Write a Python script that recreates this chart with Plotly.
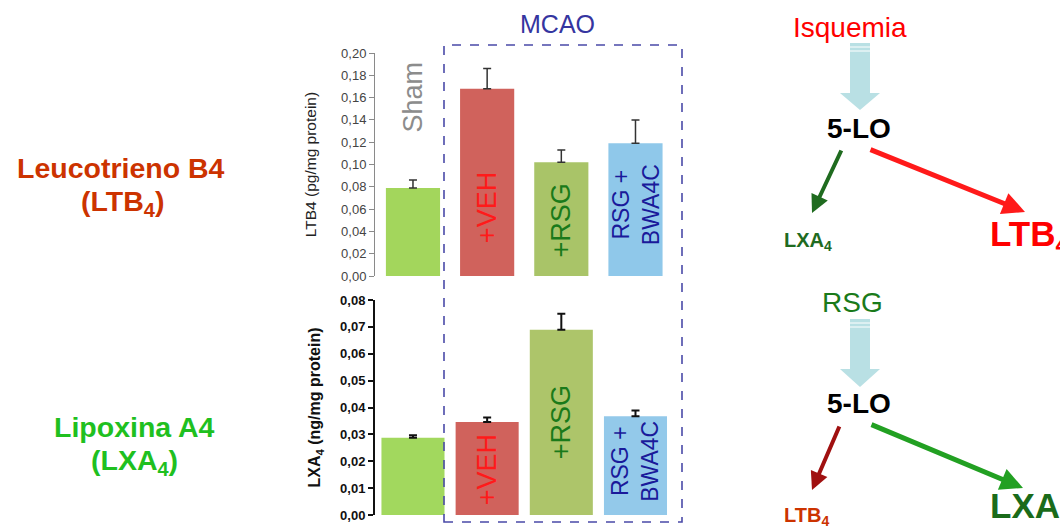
import plotly.graph_objects as go

W, H = 1060, 528

# ---------------- data ----------------
groups = ["Sham", "+VEH", "+RSG", "RSG + BWA4C"]
ltb4_values = [0.079, 0.168, 0.102, 0.119]
ltb4_err = [0.007, 0.018, 0.011, 0.021]
lxa4_values = [0.0287, 0.0346, 0.0689, 0.0367]
lxa4_err = [0.0010, 0.0017, 0.0060, 0.0022]

top_colors = ["#a3d65c", "#d0625c", "#a9c468", "#8fc8ea"]
bot_colors = ["#a2d85e", "#d0625c", "#adc56a", "#93c9ea"]

top_ticks = [0.00, 0.02, 0.04, 0.06, 0.08, 0.10, 0.12, 0.14, 0.16, 0.18, 0.20]
top_tick_labels = ["0,00", "0,02", "0,04", "0,06", "0,08", "0,10", "0,12", "0,14", "0,16", "0,18", "0,20"]
bot_ticks = [0.00, 0.01, 0.02, 0.03, 0.04, 0.05, 0.06, 0.07, 0.08]
bot_tick_labels = ["0,00", "0,01", "0,02", "0,03", "0,04", "0,05", "0,06", "0,07", "0,08"]

# in-bar labels
bar_label_text = ["Sham", "+VEH", "+RSG", "RSG +<br>BWA4C"]
bar_label_color = ["#8c8c8c", "#ff1a1a", "#1a7a1a", "#1a1a9a"]
top_label_y = [0.161, 0.061, 0.050, 0.064]
bot_label_y = [None, 0.0167, 0.0346, 0.0200]

FONT = "Liberation Sans, Arial, sans-serif"


def px(x):
    return x / W


def py(y):
    return 1 - y / H


fig = go.Figure()

fig.add_trace(go.Bar(
    x=groups, y=ltb4_values, marker=dict(color=top_colors, line=dict(width=0)),
    width=0.73,
    error_y=dict(type="data", symmetric=False, array=ltb4_err,
                 arrayminus=[0] * len(ltb4_err), color="#333333", thickness=1.5, width=4),
    xaxis="x", yaxis="y", showlegend=False))

fig.add_trace(go.Bar(
    x=groups, y=lxa4_values, marker=dict(color=bot_colors, line=dict(width=0)),
    width=0.85,
    error_y=dict(type="data", symmetric=False, array=lxa4_err,
                 arrayminus=[0] * len(lxa4_err), color="#111111", thickness=2, width=4),
    xaxis="x2", yaxis="y2", showlegend=False))

xr = [-0.512, 3.735]
xdom = [px(375), px(690)]

fig.update_layout(
    width=W, height=H,
    margin=dict(l=0, r=0, t=0, b=0),
    paper_bgcolor="white", plot_bgcolor="rgba(0,0,0,0)",
    font=dict(family=FONT),
    xaxis=dict(domain=xdom, range=xr, visible=False, type="category"),
    xaxis2=dict(domain=xdom, range=xr, visible=False, type="category", anchor="y2"),
    yaxis=dict(domain=[py(276), py(53)], range=[0, 0.2], anchor="x",
               tickvals=top_ticks, ticktext=top_tick_labels,
               tickfont=dict(size=13, color="#444444", family=FONT),
               showline=True, linecolor="#8a8a8a", linewidth=1,
               ticks="outside", ticklen=5, tickcolor="#8a8a8a",
               showgrid=False, zeroline=False, automargin=False,
               title=dict(text="LTB4 (pg/mg protein)", standoff=20,
                          font=dict(size=15.5, color="#222222", family=FONT))),
    yaxis2=dict(domain=[py(515), py(300)], range=[0, 0.08], anchor="x2",
                tickvals=bot_ticks, ticktext=["<b>" + t + "</b>" for t in bot_tick_labels],
                tickfont=dict(size=13, color="#111111", family=FONT),
                showline=True, linecolor="#111111", linewidth=2,
                ticks="outside", ticklen=5, tickcolor="#111111", tickwidth=2,
                showgrid=False, zeroline=False, automargin=False,
                title=dict(text="<b>LXA<sub>4</sub> (ng/mg protein)</b>", standoff=15,
                           font=dict(size=16, color="#111111", family=FONT))),
)

ann = []
# in-bar rotated labels
for g, t, c, yt, yb in zip(groups, bar_label_text, bar_label_color, top_label_y, bot_label_y):
    big = 23 if "BWA" in t else 27
    ann.append(dict(x=g, y=yt, xref="x", yref="y", text=t, textangle=-90, showarrow=False,
                    xanchor="center", yanchor="middle",
                    font=dict(size=big, color=c, family=FONT)))
    if yb is not None:
        ann.append(dict(x=g, y=yb, xref="x2", yref="y2", text=t, textangle=-90, showarrow=False,
                        xanchor="center", yanchor="middle",
                        font=dict(size=big, color=c, family=FONT)))

# free texts: (x, y, text, size, colour, xanchor)
texts = [
    (557, 24, "MCAO", 25, "#3535a0", "center"),
    (121, 168, "<b>Leucotrieno B4</b>", 28.5, "#cc3300", "center"),
    (122, 203, "<b>(LTB<sub>4</sub>)</b>", 28.5, "#cc3300", "center"),
    (134, 427, "<b>Lipoxina A4</b>", 28.5, "#1fc01f", "center"),
    (134, 462, "<b>(LXA<sub>4</sub>)</b>", 28.5, "#1fc01f", "center"),
    (850, 27, "Isquemia", 28, "#ff0000", "center"),
    (859, 128, "<b>5-LO</b>", 28, "#000000", "center"),
    (782, 242, "<b>LXA<sub>4</sub></b>", 20, "#1f6b1f", "left"),
    (988, 236, "<b>LTB<sub>4</sub></b>", 35, "#ff0000", "left"),
    (852, 302, "RSG", 28, "#1a7a1a", "center"),
    (859, 403, "<b>5-LO</b>", 28, "#000000", "center"),
    (782, 516, "<b>LTB<sub>4</sub></b>", 20, "#cc3300", "left"),
    (988, 508, "<b>LXA<sub>4</sub></b>", 35, "#1a6b1a", "left"),
]
for x, y, t, s, c, xa in texts:
    ann.append(dict(x=px(x), y=py(y), xref="paper", yref="paper", text=t, showarrow=False,
                    xanchor=xa, yanchor="middle", font=dict(size=s, color=c, family=FONT)))

# line arrows: head (x, y), tail (x, y)
arrows = [
    (812, 213, 842, 149, "#1f6b1f", 4),
    (1025, 212, 869, 149, "#ff1a1a", 5),
    (812, 490, 840, 425, "#a01010", 4),
    (1023, 488, 870, 424, "#22a022", 5),
]
for hx, hy, tx, ty, c, w in arrows:
    ann.append(dict(x=px(hx), y=py(hy), xref="paper", yref="paper", text="", showarrow=True,
                    ax=tx - hx, ay=ty - hy, axref="pixel", ayref="pixel",
                    arrowhead=2, arrowsize=0.9, arrowwidth=w, arrowcolor=c, standoff=0))

fig.update_layout(annotations=ann)

shapes = []
# dashed MCAO box
shapes.append(dict(type="rect", xref="paper", yref="paper", x0=px(444), x1=px(682), y0=py(522), y1=py(45),
                   line=dict(color="#4a4aa8", width=1.6, dash="dash"), fillcolor="rgba(0,0,0,0)", layer="above"))


def block_arrow(top, head_top, tip, cx=860, half_shaft=10, half_head=20):
    pts = [(cx - half_shaft, top), (cx + half_shaft, top), (cx + half_shaft, head_top),
           (cx + half_head, head_top), (cx, tip), (cx - half_head, head_top), (cx - half_shaft, head_top)]
    path = "M " + " L ".join(f"{px(x):.5f},{py(y):.5f}" for x, y in pts) + " Z"
    return dict(type="path", xref="paper", yref="paper", path=path,
                fillcolor="#b9e0e4", line=dict(width=0))


shapes.append(block_arrow(43, 93, 110))
shapes.append(block_arrow(319, 369, 387))
for yy in (47, 51, 323, 327):
    shapes.append(dict(type="line", xref="paper", yref="paper", x0=px(850), x1=px(870), y0=py(yy), y1=py(yy),
                       line=dict(color="white", width=1)))

fig.update_layout(shapes=shapes)

fig.write_html(
    "out.html",
    config={"displayModeBar": False},
    post_script="document.body.style.margin='0';document.body.style.padding='0';"
                "document.body.style.overflow='hidden';",
)
